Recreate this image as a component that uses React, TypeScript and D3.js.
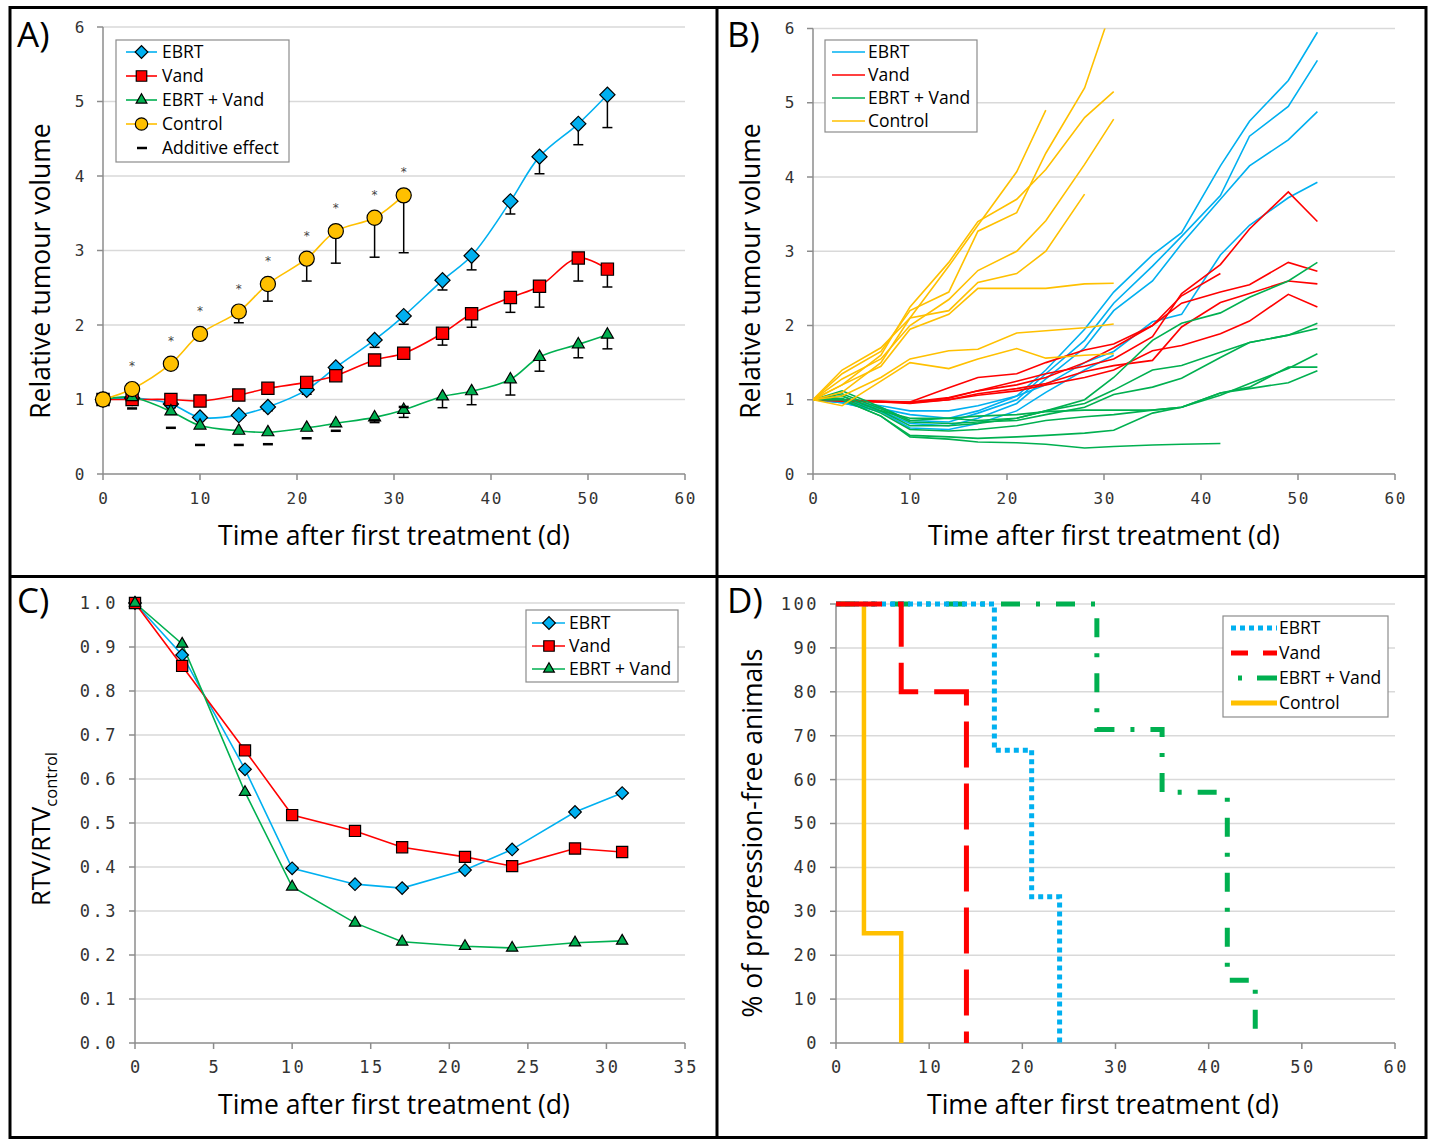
import React from "react";
import * as d3 from "d3";

// ---------- Panel A: mean relative tumour volume (lower SD bar only) ----------
const daysA = [0, 3, 7, 10, 14, 17, 21, 24, 28, 31, 35, 38, 42, 45, 49, 52];
const daysCtrl = [0, 3, 7, 10, 14, 17, 21, 24, 28, 31];
const ebrtMean = [1.0, 1.02, 0.94, 0.76, 0.79, 0.9, 1.13, 1.43, 1.8, 2.12, 2.6, 2.93, 3.66, 4.26, 4.7, 5.09];
const ebrtSd = [0, 0.03, 0.05, 0.04, 0.04, 0.05, 0.06, 0.08, 0.1, 0.11, 0.13, 0.19, 0.17, 0.23, 0.28, 0.44];
const vandMean = [1.0, 1.0, 1.0, 0.98, 1.06, 1.15, 1.23, 1.32, 1.53, 1.62, 1.89, 2.15, 2.37, 2.52, 2.9, 2.75];
const vandSd = [0, 0.04, 0.03, 0.03, 0.03, 0.04, 0.04, 0.05, 0.06, 0.06, 0.16, 0.18, 0.2, 0.28, 0.31, 0.24];
const comboMean = [1.0, 1.03, 0.84, 0.65, 0.58, 0.56, 0.62, 0.68, 0.76, 0.86, 1.04, 1.11, 1.27, 1.57, 1.74, 1.87];
const comboSd = [0, 0.03, 0.04, 0.03, 0.03, 0.03, 0.03, 0.04, 0.07, 0.1, 0.15, 0.18, 0.21, 0.19, 0.18, 0.19];
const ctrlMean = [1.0, 1.14, 1.48, 1.88, 2.18, 2.55, 2.89, 3.26, 3.44, 3.74];
const ctrlSd = [0, 0.03, 0.04, 0.07, 0.15, 0.23, 0.3, 0.43, 0.53, 0.77];
const additiveDays = [3, 7, 10, 14, 17, 21, 24, 28, 31];
const additiveVals = [0.88, 0.62, 0.39, 0.39, 0.4, 0.48, 0.58, 0.72, 0.9];
const starDays = [3, 7, 10, 14, 17, 21, 24, 28, 31];

// ---------- Panel B: individual animals ----------
const ebrtAnimals = [
  [1, 0.97, 0.88, 0.8, 0.75, 0.85, 1.05, 1.4, 1.95, 2.45, 2.95, 3.25, 4.15, 4.75, 5.3, 5.95],
  [1, 0.98, 0.9, 0.72, 0.7, 0.82, 1.0, 1.35, 1.8, 2.3, 2.8, 3.2, 3.75, 4.55, 4.95, 5.57],
  [1, 0.96, 0.85, 0.68, 0.65, 0.75, 0.95, 1.28, 1.7, 2.2, 2.6, 3.1, 3.7, 4.15, 4.5, 4.88],
  [1, 0.99, 0.92, 0.85, 0.85, 0.92, 1.05, 1.2, 1.5, 1.65, 2.05, 2.15, 2.95, 3.35, 3.72, 3.93],
  [1, 0.96, 0.84, 0.62, 0.6, 0.68, 0.85, 1.1, 1.4, 1.6],
];
const vandAnimals = [
  [1, 0.98, 0.97, 0.96, 1.02, 1.12, 1.25, 1.35, 1.45, 1.55, 1.85, 2.43, 2.82, 3.3, 3.8, 3.4],
  [1, 1.0, 0.98, 0.97, 1.16, 1.3, 1.35, 1.5, 1.67, 1.75, 2.0, 2.3, 2.45, 2.55, 2.85, 2.73],
  [1, 0.99, 0.97, 0.95, 1.0, 1.08, 1.15, 1.22, 1.38, 1.46, 1.53, 1.98, 2.31, 2.43, 2.6, 2.56],
  [1, 0.99, 0.98, 0.96, 1.0, 1.06, 1.12, 1.2, 1.3, 1.4, 1.66, 1.73, 1.89, 2.06, 2.42, 2.25],
  [1, 1.0, 0.97, 0.97, 1.03, 1.12, 1.2, 1.3, 1.5, 1.7, 2.0, 2.4, 2.7],
];
const comboAnimals = [
  [1, 1.12, 0.9, 0.72, 0.75, 0.72, 0.75, 0.85, 1.0, 1.3, 1.8, 2.03, 2.17, 2.38, 2.6, 2.85],
  [1, 1.05, 0.85, 0.65, 0.65, 0.68, 0.75, 0.85, 0.95, 1.13, 1.4, 1.46, 1.64, 1.77, 1.87, 2.03],
  [1, 1.08, 0.88, 0.7, 0.68, 0.7, 0.72, 0.8, 0.9, 1.07, 1.17, 1.29, 1.57, 1.77, 1.87, 1.96],
  [1, 1.02, 0.82, 0.6, 0.58, 0.6, 0.65, 0.72, 0.77, 0.8, 0.86, 0.9, 1.06, 1.22, 1.42, 1.62],
  [1, 1.0, 0.78, 0.52, 0.5, 0.48, 0.5, 0.52, 0.55, 0.59, 0.82, 0.9, 1.09, 1.17, 1.44, 1.44],
  [1, 1.05, 0.85, 0.75, 0.75, 0.78, 0.8, 0.84, 0.86, 0.86, 0.86, 0.9, 1.09, 1.15, 1.23, 1.39],
  [1, 1.0, 0.78, 0.5, 0.47, 0.43, 0.42, 0.4, 0.35, 0.37, 0.39, 0.4, 0.41],
];
const ctrlAnimals = [
  [1, 1.35, 1.65, 2.2, 2.45, 3.27, 3.52, 4.32, 5.2, 6.35],
  [1, 1.2, 1.6, 2.25, 2.85, 3.4, 3.7, 4.1, 4.8, 5.15],
  [1, 1.28, 1.55, 2.0, 2.35, 2.74, 3.0, 3.41, 4.17, 4.78],
  [1, 1.1, 1.5, 2.1, 2.2, 2.58, 2.7, 3.0, 3.77],
  [1, 1.4, 1.7, 2.1, 2.8, 3.35, 4.07, 4.9],
  [1, 1.2, 1.45, 1.95, 2.15, 2.5, 2.5, 2.5, 2.56, 2.57],
  [1, 1.05, 1.3, 1.55, 1.66, 1.68, 1.9, 1.93, 1.97, 2.02],
  [1, 0.92, 1.25, 1.5, 1.42, 1.55, 1.69, 1.56, 1.6, 1.62],
];

// ---------- Panel C: RTV / RTV control ----------
const daysC = [0, 3, 7, 10, 14, 17, 21, 24, 28, 31];
const ratioEbrt = [1.0, 0.882, 0.622, 0.397, 0.361, 0.352, 0.393, 0.44, 0.525, 0.568];
const ratioVand = [1.0, 0.857, 0.665, 0.518, 0.482, 0.445, 0.423, 0.402, 0.442, 0.434];
const ratioCombo = [1.0, 0.907, 0.57, 0.355, 0.273, 0.23, 0.22, 0.216, 0.228, 0.232];

// ---------- Panel D: progression-free (Kaplan-Meier) ----------
const kmEbrtT = [0, 17, 21, 24];
const kmEbrtV = [100, 66.7, 33.3, 0];
const kmVandT = [0, 7, 14];
const kmVandV = [100, 80, 0];
const kmComboT = [0, 28, 35, 42, 45];
const kmComboV = [100, 71.4, 57.1, 14.3, 0];
const kmCtrlT = [0, 3, 7];
const kmCtrlV = [100, 25, 0];

const C = { ebrt: "#00b0f0", vand: "#ff0000", combo: "#00b050", ctrl: "#ffc000" };
const TITLE = "'Open Sans', Lato, sans-serif";
const MONO = "'DejaVu Sans Mono', monospace";
const LEG_FS = 17.5;

const marker = (shape, size) => {
  if (shape === "diamond") return d3.symbol(d3.symbolSquare, size)();
  if (shape === "square") return d3.symbol(d3.symbolSquare, size)();
  if (shape === "triangle") return d3.symbol(d3.symbolTriangle, size)();
  return d3.symbol(d3.symbolCircle, size)();
};

const Mark = ({ x, y, shape, size, fill }) => (
  <path
    d={marker(shape, size)}
    transform={`translate(${x},${y})${shape === "diamond" ? " rotate(45)" : ""}`}
    fill={fill}
    stroke="#000"
    strokeWidth={1.2}
  />
);

const Axes = ({ x, y, xTicks, yTicks, yFmt, fs, ls }) => {
  const [x0, x1] = x.range();
  const [y0, y1] = y.range();
  return (
    <g>
      {yTicks.slice(1).map((t) => (
        <line key={"g" + t} x1={x0} x2={x1} y1={y(t)} y2={y(t)} stroke="#d9d9d9" strokeWidth={1.5} />
      ))}
      <line x1={x0} x2={x1} y1={y0} y2={y0} stroke="#8c8c8c" strokeWidth={1.5} />
      <line x1={x0} x2={x0} y1={y0} y2={y1} stroke="#8c8c8c" strokeWidth={1.5} />
      {yTicks.map((t) => (
        <g key={"y" + t}>
          <line x1={x0 - 6} x2={x0} y1={y(t)} y2={y(t)} stroke="#8c8c8c" strokeWidth={1.5} />
          <text x={x0 - 17} y={y(t)} dy="0.35em" textAnchor="end" fontFamily={MONO} fontSize={fs} letterSpacing={ls} fill="#333">
            {yFmt(t)}
          </text>
        </g>
      ))}
      {xTicks.map((t) => (
        <g key={"x" + t}>
          <line x1={x(t)} x2={x(t)} y1={y0} y2={y0 + 6} stroke="#8c8c8c" strokeWidth={1.5} />
          <text x={x(t) + ls / 2} y={y0 + 30} textAnchor="middle" fontFamily={MONO} fontSize={fs} letterSpacing={ls} fill="#333">
            {t}
          </text>
        </g>
      ))}
    </g>
  );
};

const XTitle = ({ cx, y }) => (
  <text x={cx} y={y} textAnchor="middle" fontFamily={TITLE} fontSize={26.5} fill="#000">
    Time after first treatment (d)
  </text>
);

export default function App() {
  const xA = d3.scaleLinear().domain([0, 60]).range([103, 685]);
  const yA = d3.scaleLinear().domain([0, 6]).range([474, 27]);
  const xB = d3.scaleLinear().domain([0, 60]).range([813, 1395]);
  const yB = d3.scaleLinear().domain([0, 6]).range([474, 28.5]);
  const xC = d3.scaleLinear().domain([0, 35]).range([135, 685]);
  const yC = d3.scaleLinear().domain([0, 1]).range([1043, 603]);
  const xD = d3.scaleLinear().domain([0, 60]).range([836, 1395]);
  const yD = d3.scaleLinear().domain([0, 100]).range([1043, 604]);

  const ticks60 = d3.range(0, 61, 10);
  const ticks6 = d3.range(0, 7, 1);

  // panel A series
  const seriesA = [
    { key: "ebrt", days: daysA, mean: ebrtMean, sd: ebrtSd, shape: "diamond", size: 115 },
    { key: "vand", days: daysA, mean: vandMean, sd: vandSd, shape: "square", size: 150 },
    { key: "combo", days: daysA, mean: comboMean, sd: comboSd, shape: "triangle", size: 62 },
    { key: "ctrl", days: daysCtrl, mean: ctrlMean, sd: ctrlSd, shape: "circle", size: 180 },
  ];
  const smooth = (days, sx, sy) =>
    d3
      .line()
      .x((_, i) => sx(days[i]))
      .y((v) => sy(v))
      .curve(d3.curveCatmullRom.alpha(0.5));
  const straight = (days, sx, sy) =>
    d3
      .line()
      .x((_, i) => sx(days[i]))
      .y((v) => sy(v));

  const seriesC = [
    { key: "ebrt", vals: ratioEbrt, shape: "diamond", size: 80 },
    { key: "vand", vals: ratioVand, shape: "square", size: 125 },
    { key: "combo", vals: ratioCombo, shape: "triangle", size: 55 },
  ];

  const step = d3
    .line()
    .x((d) => xD(d[0]))
    .y((d) => yD(d[1]))
    .curve(d3.curveStepAfter);
  const seriesD = [
    { key: "ctrl", t: kmCtrlT, v: kmCtrlV, dash: null, w: 4.5 },
    { key: "combo", t: kmComboT, v: kmComboV, dash: "19 16 4 16", w: 5 },
    { key: "ebrt", t: kmEbrtT, v: kmEbrtV, dash: "5 4", w: 5 },
    { key: "vand", t: kmVandT, v: kmVandV, dash: "46 16", w: 5 },
  ];

  const legendA = [
    { label: "EBRT", key: "ebrt", shape: "diamond", size: 80 },
    { label: "Vand", key: "vand", shape: "square", size: 110 },
    { label: "EBRT + Vand", key: "combo", shape: "triangle", size: 50 },
    { label: "Control", key: "ctrl", shape: "circle", size: 120 },
  ];

  return (
    <div style={{ position: "absolute", left: 0, top: 0 }}>
      <svg width={1430} height={1139} style={{ display: "block", background: "#fff" }}>
        <defs>
          <clipPath id="clipB">
            <rect x={xB(0)} y={yB(6)} width={xB(60) - xB(0)} height={yB(0) - yB(6)} />
          </clipPath>
        </defs>

        {/* ===== Panel A ===== */}
        <Axes x={xA} y={yA} xTicks={ticks60} yTicks={ticks6} yFmt={(t) => t} fs={16} ls={1.5} />
        {seriesA.map((s) => (
          <path key={"l" + s.key} d={smooth(s.days, xA, yA)(s.mean)} fill="none" stroke={C[s.key]} strokeWidth={1.6} />
        ))}
        {seriesA.map((s) => (
          <g key={"m" + s.key}>
            {s.mean.map((m, i) =>
              s.sd[i] > 0.02 ? (
                <g key={i} stroke="#000" strokeWidth={1.5}>
                  <line x1={xA(s.days[i])} x2={xA(s.days[i])} y1={yA(m)} y2={yA(m - s.sd[i])} />
                  <line x1={xA(s.days[i]) - 5} x2={xA(s.days[i]) + 5} y1={yA(m - s.sd[i])} y2={yA(m - s.sd[i])} />
                </g>
              ) : null
            )}
            {s.mean.map((m, i) => (
              <Mark key={"k" + i} x={xA(s.days[i])} y={yA(m)} shape={s.shape} size={s.size} fill={C[s.key]} />
            ))}
          </g>
        ))}
        {additiveDays.map((d, i) => (
          <line key={"ad" + d} x1={xA(d) - 5} x2={xA(d) + 5} y1={yA(additiveVals[i])} y2={yA(additiveVals[i])} stroke="#000" strokeWidth={2.5} />
        ))}
        {starDays.map((d) => (
          <text key={"st" + d} x={xA(d)} y={yA(ctrlMean[daysCtrl.indexOf(d)]) - 19} textAnchor="middle" fontFamily="'DejaVu Sans', sans-serif" fontSize={12} fill="#444">
            *
          </text>
        ))}
        <rect x={116} y={40} width={173} height={122} fill="#fff" stroke="#8c8c8c" strokeWidth={1.2} />
        {legendA.map((l, i) => (
          <g key={"la" + l.key}>
            <line x1={126} x2={157} y1={52 + i * 24} y2={52 + i * 24} stroke={C[l.key]} strokeWidth={1.6} />
            <Mark x={141.5} y={52 + i * 24} shape={l.shape} size={l.size} fill={C[l.key]} />
            <text x={162} y={52 + i * 24} dy="0.35em" fontFamily={TITLE} fontSize={LEG_FS}>
              {l.label}
            </text>
          </g>
        ))}
        <line x1={137} x2={147} y1={148} y2={148} stroke="#000" strokeWidth={2.5} />
        <text x={162} y={148} dy="0.35em" fontFamily={TITLE} fontSize={LEG_FS}>
          Additive effect
        </text>
        <text x={17} y={47} fontFamily={TITLE} fontSize={35}>A)</text>
        <text transform="translate(50,271) rotate(-90)" textAnchor="middle" fontFamily={TITLE} fontSize={26.5}>
          Relative tumour volume
        </text>
        <XTitle cx={394} y={545} />

        {/* ===== Panel B ===== */}
        <Axes x={xB} y={yB} xTicks={ticks60} yTicks={ticks6} yFmt={(t) => t} fs={16} ls={1.5} />
        <g clipPath="url(#clipB)" fill="none" strokeWidth={1.6}>
          {ebrtAnimals.map((a, i) => (
            <path key={"be" + i} d={straight(daysA, xB, yB)(a)} stroke={C.ebrt} />
          ))}
          {vandAnimals.map((a, i) => (
            <path key={"bv" + i} d={straight(daysA, xB, yB)(a)} stroke={C.vand} />
          ))}
          {comboAnimals.map((a, i) => (
            <path key={"bc" + i} d={straight(daysA, xB, yB)(a)} stroke={C.combo} />
          ))}
          {ctrlAnimals.map((a, i) => (
            <path key={"bk" + i} d={straight(daysCtrl, xB, yB)(a)} stroke={C.ctrl} />
          ))}
        </g>
        <rect x={825} y={40} width={152} height={92} fill="#fff" stroke="#8c8c8c" strokeWidth={1.2} />
        {legendA.map((l, i) => (
          <g key={"lb" + l.key}>
            <line x1={832} x2={865} y1={52 + i * 23} y2={52 + i * 23} stroke={C[l.key]} strokeWidth={1.6} />
            <text x={868} y={52 + i * 23} dy="0.35em" fontFamily={TITLE} fontSize={LEG_FS}>
              {l.label}
            </text>
          </g>
        ))}
        <text x={727} y={47} fontFamily={TITLE} fontSize={35}>B)</text>
        <text transform="translate(760,271) rotate(-90)" textAnchor="middle" fontFamily={TITLE} fontSize={26.5}>
          Relative tumour volume
        </text>
        <XTitle cx={1104} y={545} />

        {/* ===== Panel C ===== */}
        <Axes x={xC} y={yC} xTicks={d3.range(0, 36, 5)} yTicks={d3.range(0, 11).map((k) => k / 10)} yFmt={(t) => t.toFixed(1)} fs={17} ls={2.5} />
        {seriesC.map((s) => (
          <path key={"cl" + s.key} d={straight(daysC, xC, yC)(s.vals)} fill="none" stroke={C[s.key]} strokeWidth={1.6} />
        ))}
        {seriesC.map((s) => (
          <g key={"cm" + s.key}>
            {s.vals.map((v, i) => (
              <Mark key={i} x={xC(daysC[i])} y={yC(v)} shape={s.shape} size={s.size} fill={C[s.key]} />
            ))}
          </g>
        ))}
        <rect x={526} y={610} width={152} height={72} fill="#fff" stroke="#8c8c8c" strokeWidth={1.2} />
        {legendA.slice(0, 3).map((l, i) => (
          <g key={"lc" + l.key}>
            <line x1={532} x2={565} y1={623 + i * 23} y2={623 + i * 23} stroke={C[l.key]} strokeWidth={1.6} />
            <Mark x={549} y={623 + i * 23} shape={l.shape} size={l.size} fill={C[l.key]} />
            <text x={569} y={623 + i * 23} dy="0.35em" fontFamily={TITLE} fontSize={LEG_FS}>
              {l.label}
            </text>
          </g>
        ))}
        <text x={17} y={613} fontFamily={TITLE} fontSize={35}>C)</text>
        <text transform="translate(50,829) rotate(-90)" textAnchor="middle" fontFamily={TITLE} fontSize={25.5}>
          RTV/RTV
          <tspan dy={7} fontSize={16.5}>control</tspan>
        </text>
        <XTitle cx={394} y={1114} />

        {/* ===== Panel D ===== */}
        <Axes x={xD} y={yD} xTicks={ticks60} yTicks={d3.range(0, 101, 10)} yFmt={(t) => t} fs={17} ls={2.5} />
        {seriesD.map((s) => (
          <path
            key={"d" + s.key}
            d={step(s.t.map((t, i) => [t, s.v[i]]))}
            fill="none"
            stroke={C[s.key]}
            strokeWidth={s.w}
            strokeDasharray={s.dash || undefined}
          />
        ))}
        <rect x={1223} y={616} width={165} height={101} fill="#fff" stroke="#8c8c8c" strokeWidth={1.2} />
        {[
          { label: "EBRT", key: "ebrt", dash: "5 4" },
          { label: "Vand", key: "vand", dash: "17 15" },
          { label: "EBRT + Vand", key: "combo", dash: "0 7 4 15 20" },
          { label: "Control", key: "ctrl", dash: null },
        ].map((l, i) => (
          <g key={"ld" + l.key}>
            <line x1={1231} x2={1277} y1={628 + i * 25} y2={628 + i * 25} stroke={C[l.key]} strokeWidth={5} strokeDasharray={l.dash || undefined} />
            <text x={1279} y={628 + i * 25} dy="0.35em" fontFamily={TITLE} fontSize={LEG_FS}>
              {l.label}
            </text>
          </g>
        ))}
        <text x={727} y={613} fontFamily={TITLE} fontSize={35}>D)</text>
        <text transform="translate(762,833) rotate(-90)" textAnchor="middle" fontFamily={TITLE} fontSize={26.5}>
          % of progression-free animals
        </text>
        <XTitle cx={1103} y={1114} />

        {/* ===== frame ===== */}
        <rect x={10} y={7.5} width={1416} height={1130} fill="none" stroke="#000" strokeWidth={3} />
        <line x1={717} x2={717} y1={7.5} y2={1139} stroke="#000" strokeWidth={3} />
        <line x1={10} x2={1426} y1={576.5} y2={576.5} stroke="#000" strokeWidth={3} />
      </svg>
    </div>
  );
}
